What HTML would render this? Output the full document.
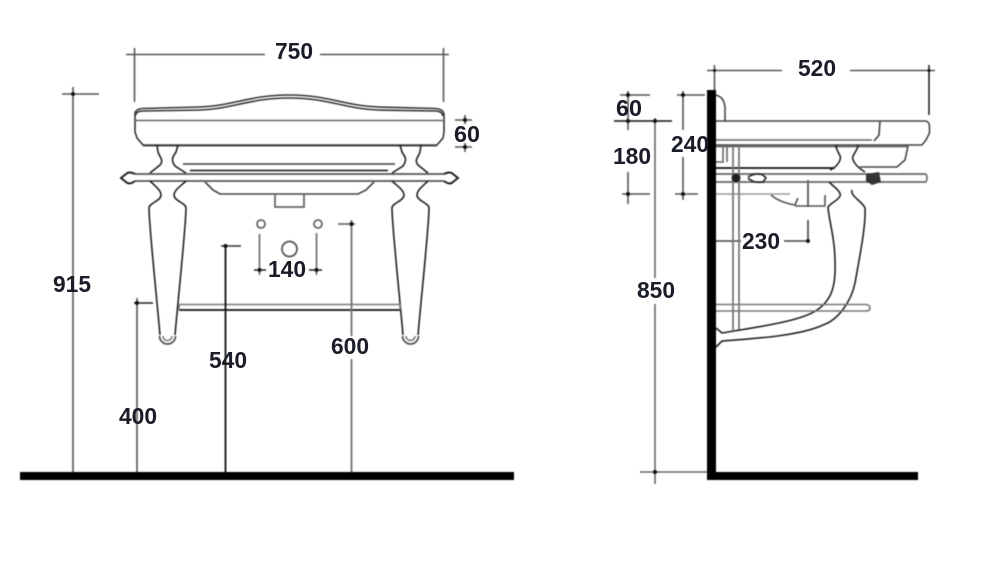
<!DOCTYPE html>
<html><head><meta charset="utf-8"><style>
html,body{margin:0;padding:0;background:#fff;width:1000px;height:562px;overflow:hidden}
svg{display:block}
text{font-family:"Liberation Sans",sans-serif;font-weight:bold;font-size:23px;fill:#1a1c28;text-anchor:middle}
.soft{filter:blur(0.4px)}
</style></head><body>
<svg width="1000" height="562" viewBox="0 0 1000 562" xmlns="http://www.w3.org/2000/svg">
<rect width="1000" height="562" fill="#fff"/>
<g class="soft">
<!-- Front view drawing -->
<g fill="none" stroke="#333" stroke-width="1.600">
<path d="M135 114Q135 109 143 108.500L200 107C232 106 250 95 289 95C328 95 346 106 378 107L435 108.500Q443 109 444 114"/>
<path d="M135 116Q136 111 143 111L200 110C232 109 250 98 289 98C328 98 346 109 378 110L435 111Q442 111 443 116"/>
<path d="M135 114V132L137 138L143 145H437L443 138L444 132V114"/>
<path d="M135 120.500H444" stroke="#666"/>
<path d="M143 145.500H437" stroke="#444" stroke-width="2"/>
<path d="M183 164H395" stroke="#555" stroke-width="1.800"/>
<path d="M190 170.500H388" stroke="#111" stroke-width="1.600"/>
<path d="M135 174H444M135 181H444" stroke="#555" stroke-width="1.800"/>
<path d="M205 182L213 190L220 194H358L366 190L374 182" stroke="#444"/>
<path d="M275 195V207H304V195" stroke="#666" stroke-width="1.800"/>
<!-- finials -->
<path d="M135 174C131 172 128 172 126 174L121 178L126 182C128 184 131 184 135 181" stroke="#222" stroke-width="2"/>
<path d="M444 174C448 172 451 172 453 174L458 178L453 182C451 184 448 184 444 181" stroke="#222" stroke-width="2"/>
<!-- left leg -->
<g stroke="#222">
<path d="M157 145L158 152C160 158 164 160 160 165L150 173"/>
<path d="M178 145L176 152C172 158 171 160 175 166L186 173"/>
<path d="M150 181C154 185 161 190 161 195C161 201 149 203 149 208C149 225 156 290 160 335"/>
<path d="M186 181C182 185 174 190 174 195C174 201 186 203 186 208C186 225 179 290 175 335"/>
<path d="M159.500 336A8 8 0 1 0 175.500 336" stroke="#555" stroke-width="1.800"/>
<path d="M163 336A4.500 4.500 0 1 0 172 336" stroke="#777"/>
</g>
<!-- right leg -->
<g stroke="#222">
<path d="M421 145L420 152C418 158 414 160 418 165L428 173"/>
<path d="M400 145L402 152C406 158 407 160 403 166L392 173"/>
<path d="M428 181C424 185 417 190 417 195C417 201 429 203 429 208C429 225 422 290 418 335"/>
<path d="M392 181C396 185 404 190 404 195C404 201 392 203 392 208C392 225 399 290 403 335"/>
<path d="M402.500 336A8 8 0 1 0 418.500 336" stroke="#555" stroke-width="1.800"/>
<path d="M406 336A4.500 4.500 0 1 0 415 336" stroke="#777"/>
</g>
<path d="M179 304.500H400" stroke="#888" stroke-width="1.800"/>
<path d="M179 310H400" stroke="#111" stroke-width="1.800"/>
<path d="M179 304V310M400 304V310" stroke="#777"/>
<circle cx="261" cy="224" r="4" stroke="#666" stroke-width="1.800"/>
<circle cx="318" cy="224" r="4" stroke="#666" stroke-width="1.800"/>
<circle cx="289.500" cy="249" r="7.500" stroke="#555" stroke-width="1.800"/>
</g>
<!-- Front dims -->
<g fill="none" stroke="#555" stroke-width="1.600">
<path d="M126 54.500H265M320 54.500H449M134.500 48V102M443.500 48V102"/>
<path d="M62 94H99M73 87V472"/>
<path d="M134 303H153" stroke="#222"/>
<path d="M137 298V472"/>
<path d="M221 246H241" stroke="#333"/>
<path d="M225.500 244V472" stroke="#111" stroke-width="1.800"/>
<path d="M338 224H355"/>
<path d="M351.500 220V336M351.500 359V472" stroke="#777" stroke-width="1.900"/>
<path d="M259.500 234V275M316.500 233V275" stroke="#666"/>
<path d="M254 270H266M309 270H322" stroke="#222"/>
<path d="M455 120H472M455 147H472M465 115V124M465 143V152"/>
</g>
<g fill="#111">
<circle cx="73" cy="94" r="2"/><circle cx="137" cy="303" r="2"/><circle cx="225.500" cy="246" r="2"/><circle cx="351.500" cy="224" r="2"/>
<circle cx="259.500" cy="270" r="2"/><circle cx="316.500" cy="270" r="2"/>
<circle cx="465" cy="120" r="2"/><circle cx="465" cy="147" r="2"/>
</g>
<rect x="20" y="472" width="494" height="8" fill="#000"/>
<!-- Side view -->
<g fill="none" stroke="#555" stroke-width="1.600">
<path d="M707 70.500H782M850 70.500H935"/>
<path d="M714.500 65V92"/>
<path d="M929 65V115" stroke="#222"/>
<path d="M620 95H650M622 194H650M628 91V118M628 172V204"/>
<path d="M614 121H672" stroke="#111"/>
<path d="M628 118V130"/>
<path d="M677 95H705M675 194H698M683 91V130M683 157V200"/>
<path d="M655 118V278M655 304V484M640 472H707" stroke="#666"/>
<path d="M716 241H741M784 241H808M808 180V207M808 220V241" stroke="#444"/>
<path d="M716 194H790" stroke="#999"/>
</g>
<g fill="#111">
<circle cx="714.500" cy="70.500" r="1.500"/><circle cx="628" cy="95" r="2"/><circle cx="628" cy="121" r="2"/><circle cx="628" cy="194" r="2"/><circle cx="655" cy="121" r="2"/><circle cx="683" cy="95" r="2"/><circle cx="683" cy="194" r="2"/><circle cx="655" cy="472" r="2"/><circle cx="808" cy="241" r="2"/><circle cx="929" cy="70.500" r="1.500"/>
</g>
<g fill="none" stroke="#444" stroke-width="1.600">
<path d="M716 95C722 97 724 100 725 107V121"/>
<path d="M716 121H925Q929 121 929.500 126V133L926 140L922 145H716"/>
<path d="M716 140H872" stroke="#666"/>
<path d="M880 121L879 135L874 141"/>
<path d="M716 146.500H908" stroke="#666" stroke-width="1.800"/>
<path d="M908 146L905 160L897 167H860"/>
<path d="M716 168H835" stroke="#111" stroke-width="1.800"/>
<path d="M716 162H723V146M727 146V162" stroke="#666"/>
<path d="M716 174H926M716 182H926" stroke="#666" stroke-width="1.800"/>
<path d="M926 174Q928 178 926 182" stroke="#666"/>
<path d="M733 146V330M739 146V330" stroke="#777" stroke-width="1.800"/>
<path d="M836 145C836 152 842 155 840 160C838 165 835 168 830 170" stroke="#222"/>
<path d="M858 145C858 151 851 155 853 160C855 165 860 169 865 172" stroke="#222"/>
<path d="M829 182C833 186 842 192 840 196C838 201 828 204 828 208C830 225 835 240 835 262C836 285 832 300 817 310C800 322 750 328 722 333L716 328" stroke="#222"/>
<path d="M852 190C850 196 863 202 865 208C866 225 860 255 855 283C851 302 838 320 823 325C800 336 750 339 722 341L716 347" stroke="#222"/>
<path d="M716 304.500H866Q870 305 870 308Q870 311 866 311H716" stroke="#777"/>
<path d="M771 195C778 201 788 204 795 205L798 198M795 206H825V195" stroke="#555"/>
<path d="M748 177C753 174 758 173 763 175L766 178L763 182C758 183 752 182 748 178" stroke="#222"/>
</g>
<circle cx="736" cy="178" r="4.500" fill="#222"/>
<path d="M866 174L879 172L881 182L872 185L866 181Z" fill="#333"/>
<rect x="707" y="90" width="9" height="390" fill="#000"/>
<rect x="707" y="472" width="211" height="8" fill="#000"/>
</g>
<!-- labels -->
<g>
<text x="294" y="59" textLength="38" lengthAdjust="spacingAndGlyphs">750</text>
<text x="467" y="142" textLength="26" lengthAdjust="spacingAndGlyphs">60</text>
<text x="72" y="292" textLength="38" lengthAdjust="spacingAndGlyphs">915</text>
<text x="287" y="277" textLength="38" lengthAdjust="spacingAndGlyphs">140</text>
<text x="138" y="424" textLength="38" lengthAdjust="spacingAndGlyphs">400</text>
<text x="228" y="368" textLength="38" lengthAdjust="spacingAndGlyphs">540</text>
<text x="350" y="354" textLength="38" lengthAdjust="spacingAndGlyphs">600</text>
<text x="817" y="76" textLength="38" lengthAdjust="spacingAndGlyphs">520</text>
<text x="629" y="116" textLength="26" lengthAdjust="spacingAndGlyphs">60</text>
<text x="632" y="164" textLength="38" lengthAdjust="spacingAndGlyphs">180</text>
<text x="690" y="152" textLength="38" lengthAdjust="spacingAndGlyphs">240</text>
<text x="656" y="298" textLength="38" lengthAdjust="spacingAndGlyphs">850</text>
<text x="761" y="249" textLength="38" lengthAdjust="spacingAndGlyphs">230</text>
</g>
</svg>
</body></html>
